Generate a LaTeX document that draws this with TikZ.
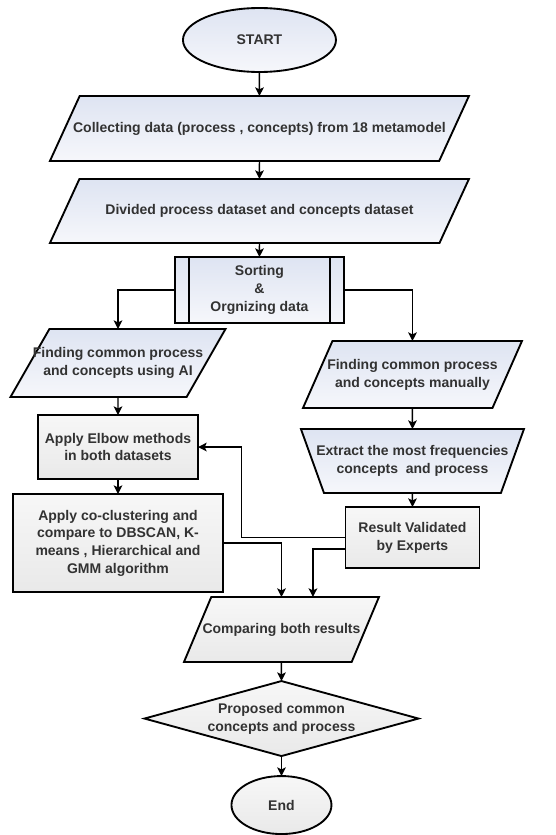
\documentclass[tikz,border=0pt]{standalone}
\usepackage{fontspec}
\setmainfont{Liberation Sans}
\usetikzlibrary{shapes.geometric, arrows.meta, positioning}

\definecolor{bluetop}{RGB}{222,228,242}
\definecolor{bluebot}{RGB}{246,247,251}
\definecolor{greytop}{RGB}{247,247,247}
\definecolor{greybot}{RGB}{233,233,233}
\definecolor{txtgrey}{RGB}{50,50,50}

\begin{document}
\begin{tikzpicture}[
    font=\fontsize{10.5}{13.3}\selectfont\bfseries,
    text=txtgrey,
    base/.style = {
        draw=black, line width=1.4pt, align=center, inner sep=1pt, outer sep=0pt
    },
    bluefill/.style = {top color=bluetop, bottom color=bluebot},
    greyfill/.style = {top color=greytop, bottom color=greybot},
    terminal/.style = {base, ellipse},
    process/.style = {base, rectangle},
    predef/.style = {
        process, path picture={
            \draw[line width=1.4pt] ([xshift=10.5pt]path picture bounding box.north west)
                -- ([xshift=10.5pt]path picture bounding box.south west);
            \draw[line width=1.4pt] ([xshift=-10.5pt]path picture bounding box.north east)
                -- ([xshift=-10.5pt]path picture bounding box.south east);
        }
    },
    io/.style = {
        base, trapezium, trapezium stretches=true, trapezium stretches body=true,
        trapezium left angle=#1, trapezium right angle={180-#1}
    },
    manualop/.style = {
        base, trapezium, trapezium stretches=true, trapezium stretches body=true,
        trapezium left angle=110, trapezium right angle=110
    },
    decision/.style = {base, diamond, aspect=3.65, inner sep=0pt},
    arr/.style = {-{Stealth[length=6.5pt, width=6.5pt, inset=1.5pt]}, line width=1.1pt, draw=black}
]
\useasboundingbox (0,0) rectangle (417pt,-626.25pt);

% ---- Main column ----
\node[terminal, bluefill, minimum width=114.75pt, minimum height=48pt] (start) at (194.6pt,-30pt) {START};
\node[io=65, bluefill, inner xsep=-6pt, inner ysep=19pt,
      minimum width=314.25pt, minimum height=48.75pt, below=18pt of start] (collect)
    {Collecting data (process , concepts) from 18 metamodel};
\node[io=65, bluefill, inner xsep=0pt, inner ysep=18.8pt,
      minimum width=314.25pt, minimum height=48pt, below=13.5pt of collect] (divide)
    {Divided process dataset and concepts dataset};
\node[predef, bluefill, minimum width=126.75pt, minimum height=49.5pt, below=10.5pt of divide] (sort)
    {Sorting\\\&\\Orgnizing data};

% ---- AI column (left) ----
\node[io=60, bluefill, inner xsep=-13pt, inner ysep=13.7pt,
      minimum width=161.25pt, minimum height=51pt, below=4.5pt of sort, xshift=-106.1pt] (ai)
    {Finding common process\\and concepts using AI};
\node[process, greyfill, minimum width=120pt, minimum height=48pt, below=13.5pt of ai] (elbow)
    {Apply Elbow methods\\in both datasets};
\node[process, greyfill, minimum width=157.5pt, minimum height=73.5pt, below=11.25pt of elbow] (cocluster)
    {Apply co-clustering and\\compare to DBSCAN, K-\\means , Hierarchical and\\GMM algorithm};

% ---- Manual column (right) ----
\node[io=66, bluefill, inner xsep=-5pt, inner ysep=13.3pt,
      minimum width=164.25pt, minimum height=50.25pt, below=13.5pt of sort, xshift=114.75pt] (manual)
    {Finding common process\\and concepts manually};
\node[manualop, bluefill, inner xsep=-6.5pt, inner ysep=12.2pt,
      minimum width=167.25pt, minimum height=48pt, below=15.75pt of manual] (extract)
    {Extract the most frequencies\\concepts~ and process};
\node[process, greyfill, minimum width=100.5pt, minimum height=45.75pt, below=10.5pt of extract] (result)
    {Result Validated\\by Experts};

% ---- Result ----
\node[io=67, greyfill, inner xsep=-7pt, inner ysep=19.2pt,
      minimum width=146.25pt, minimum height=48.75pt, below=3.75pt of cocluster, xshift=122.6pt] (compare)
    {Comparing both results};
\node[decision, greyfill, minimum width=205.5pt, minimum height=56.25pt, below=14.25pt of compare] (propose)
    {Proposed common\\concepts and process};
\node[terminal, greyfill, minimum width=75pt, minimum height=43.5pt, below=15pt of propose] (finish) {End};

% ---- Arrows ----
\draw[arr] (start) -- (collect);
\draw[arr] (collect) -- (divide);
\draw[arr] (divide) -- (sort);
\draw[arr] (sort.west) -| (ai.north);
\draw[arr] (sort.east) -| (manual.north);

\draw[arr] (ai) -- (elbow);
\draw[arr] (elbow) -- (cocluster);
\draw[arr] (manual) -- (extract);
\draw[arr] (extract) -- (result);

% validation back to elbow
\draw[arr] (result.west) -- ++(-78pt,0) |- (elbow.east);

% both results
\draw[arr] (cocluster.east) -| (compare.north);
\draw[arr] ([yshift=-8.6pt]result.west) -| ([xshift=23.6pt]compare.north);

\draw[arr] (compare) -- (propose);
\draw[arr] (propose) -- (finish);

\end{tikzpicture}
\end{document}
